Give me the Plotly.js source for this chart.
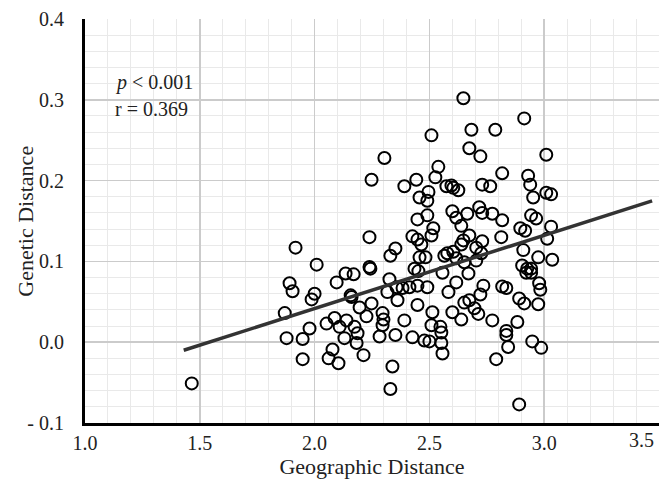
<!DOCTYPE html>
<html>
<head>
<meta charset="utf-8">
<script src="https://cdn.plot.ly/plotly-3.0.1.min.js"></script>
<style>html,body{margin:0;padding:0;background:#fff;}#chart{width:659px;height:482px;}</style>
</head>
<body>
<div id="chart"></div>
<script>
// Geographic distance (x) of each pair
var geoDistance = [
1.465,1.870,1.878,1.891,1.904,1.917,1.948,1.948,1.978,1.987,2.000,2.009,2.052,2.061,
2.078,2.087,2.096,2.104,2.109,2.130,2.135,2.139,2.157,2.161,2.170,2.174,2.183,2.187,2.196,2.213,
2.226,2.239,2.239,2.243,2.248,2.248,2.283,2.296,2.300,2.296,2.304,2.317,2.326,2.330,2.330,2.339,
2.352,2.352,2.357,2.361,2.383,2.391,2.391,2.413,2.426,2.426,2.435,2.448,2.448,2.443,2.448,2.452,
2.457,2.491,2.448,2.491,2.496,2.509,2.526,2.539,2.517,2.509,2.465,2.457,2.483,2.491,2.513,2.509,
2.548,2.552,2.478,2.500,2.552,2.557,2.557,2.565,2.578,2.604,2.574,2.596,2.604,2.626,2.600,2.617,
2.665,2.639,2.639,2.648,2.674,2.704,2.726,2.617,2.652,2.704,2.670,2.617,2.583,2.652,2.674,2.696,
2.713,2.600,2.639,2.722,2.735,2.648,2.683,2.674,2.722,2.717,2.730,2.774,2.730,2.765,2.787,2.817,
2.817,2.730,2.813,2.817,2.835,2.774,2.791,2.835,2.835,2.843,2.883,2.891,2.913,2.896,2.917,2.913,
2.930,2.939,2.952,2.943,2.965,2.909,2.904,2.926,2.943,2.922,2.943,2.974,2.978,2.983,2.974,2.948,
2.987,2.891,3.009,3.009,3.030,3.030,3.013,3.035
];
// Genetic distance (y) of each pair
var genDistance = [
-0.051,0.036,0.005,0.073,0.063,0.117,0.004,-0.021,0.017,0.053,0.060,0.096,0.023,-0.020,
-0.009,0.030,0.074,-0.026,0.019,0.005,0.085,0.027,0.058,0.056,0.084,0.019,-0.001,0.011,0.043,-0.016,
0.032,0.130,0.093,0.091,0.201,0.048,0.007,0.036,0.028,0.021,0.228,0.062,0.078,0.107,-0.058,-0.030,
0.116,0.009,0.068,0.052,0.067,0.193,0.027,0.068,0.131,0.006,0.091,0.070,0.046,0.201,0.127,0.088,
0.179,0.175,0.152,0.157,0.186,0.256,0.204,0.217,0.141,0.132,0.121,0.105,0.105,0.068,0.037,0.021,
0.019,0.012,0.002,0.001,-0.001,-0.014,0.086,0.107,0.110,0.112,0.193,0.194,0.191,0.188,0.162,0.154,
0.159,0.144,0.121,0.126,0.132,0.117,0.110,0.104,0.099,0.101,0.085,0.074,0.062,0.049,0.052,0.042,
0.035,0.037,0.028,0.059,0.070,0.302,0.263,0.240,0.230,0.167,0.160,0.159,0.195,0.193,0.263,0.209,
0.151,0.125,0.130,0.069,0.067,0.027,-0.021,0.014,0.009,-0.006,0.025,0.054,0.048,0.141,0.138,0.277,
0.206,0.195,0.179,0.157,0.153,0.114,0.095,0.091,0.091,0.086,0.086,0.105,0.073,0.065,0.047,0.001,
-0.007,-0.077,0.232,0.185,0.183,0.143,0.128,0.102
];
// Regression line end points
var fitX = [1.43, 3.47];
var fitY = [-0.010, 0.175];

var xTickVals = [1.0, 1.5, 2.0, 2.5, 3.0, 3.5];
var xTickText = ["1.0", "1.5", "2.0", "2.5", "3.0", "3.5"];
var yTickVals = [-0.1, 0.0, 0.1, 0.2, 0.3, 0.4];
var yTickText = ["- 0.1", "0.0", "0.1", "0.2", "0.3", "0.4"];
var statText = ["<i>p</i> &lt; 0.001", "r = 0.369"];
var xTitle = "Geographic Distance";
var yTitle = "Genetic Distance";

var FONT = "Liberation Serif, Times New Roman, serif";

var traces = [
  {
    x: geoDistance, y: genDistance, type: "scatter", mode: "markers",
    marker: {symbol: "circle-open", size: 12, color: "#000", line: {width: 2, color: "#000"}},
    cliponaxis: false, hoverinfo: "skip", showlegend: false
  },
  {
    x: fitX, y: fitY, type: "scatter", mode: "lines",
    line: {color: "#333333", width: 3.5}, hoverinfo: "skip", showlegend: false
  }
];

var layout = {
  width: 659, height: 482,
  margin: {l: 85, r: 0, t: 19, b: 59, pad: 0},
  paper_bgcolor: "#fff", plot_bgcolor: "#fff",
  font: {family: FONT, size: 20, color: "#222"},
  showlegend: false,
  xaxis: {
    range: [1.0, 3.5], tickvals: xTickVals.slice(0, 5), ticktext: xTickText.slice(0, 5),
    ticks: "", showline: true, linecolor: "#000", linewidth: 3,
    showgrid: true, gridcolor: "#cbcbcb", gridwidth: 1.5, zeroline: false,
    minor: {dtick: 0.1, tick0: 1.0, showgrid: true, gridcolor: "#e9e9e9", gridwidth: 1, ticks: ""},
    tickfont: {family: FONT, size: 20, color: "#222"},
    ticklabelstandoff: 0,
    title: {text: xTitle, font: {family: FONT, size: 22, color: "#222"}, standoff: 4}
  },
  yaxis: {
    range: [-0.1, 0.4], tickvals: yTickVals, ticktext: yTickText,
    ticks: "", showline: true, linecolor: "#000", linewidth: 3,
    showgrid: true, gridcolor: "#cbcbcb", gridwidth: 1.5, zeroline: false,
    minor: {dtick: 0.02, tick0: 0, showgrid: true, gridcolor: "#e9e9e9", gridwidth: 1, ticks: ""},
    tickfont: {family: FONT, size: 20, color: "#222"},
    ticklabelstandoff: 14
  },
  annotations: [
    {xref: "paper", yref: "paper", x: -0.105, y: 0.5, xanchor: "center", yanchor: "middle", textangle: -90,
     text: yTitle, showarrow: false, font: {family: FONT, size: 22, color: "#222"}},
    {xref: "paper", yref: "paper", x: 0.049, y: 0.843, xanchor: "left", yanchor: "middle",
     text: statText[0], showarrow: false, font: {family: FONT, size: 20, color: "#222"}},
    {xref: "paper", yref: "paper", x: 0.049, y: 0.778, xanchor: "left", yanchor: "middle",
     text: statText[1], showarrow: false, font: {family: FONT, size: 20, color: "#222"}},
    {xref: "x", yref: "paper", x: xTickVals[5], y: -0.042, xanchor: "right", yanchor: "middle", xshift: -3,
     text: xTickText[5], showarrow: false, font: {family: FONT, size: 20, color: "#222"}}
  ]
};

Plotly.newPlot("chart", traces, layout, {staticPlot: true, displayModeBar: false});
</script>
</body>
</html>
